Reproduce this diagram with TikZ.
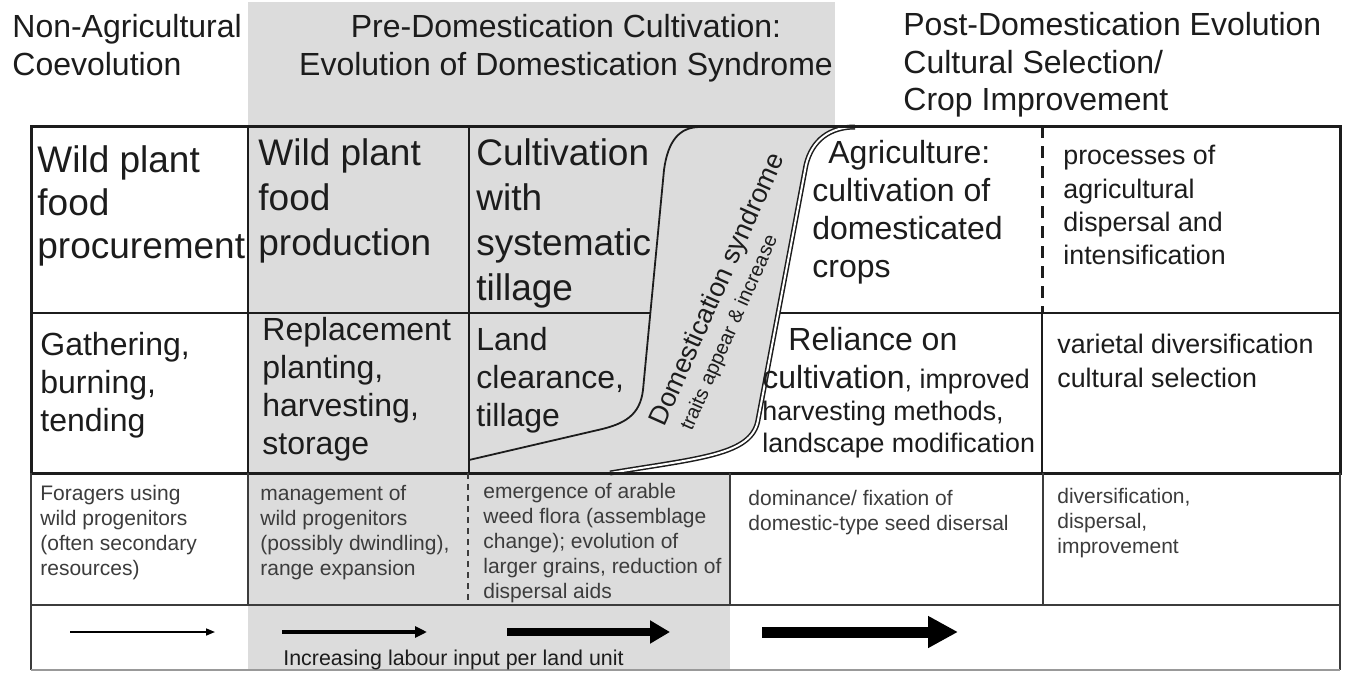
\documentclass[tikz,border=0pt]{standalone}
\usepackage{fontspec}
\setmainfont{Liberation Sans}
\usetikzlibrary{arrows.meta}
\definecolor{bandgray}{RGB}{220,220,220}
\definecolor{ink}{RGB}{28,28,28}
\definecolor{softink}{RGB}{60,60,60}
\begin{document}
\begin{tikzpicture}[x=0.5pt,y=-0.5pt,
  txt/.style={anchor=north west, inner sep=0pt, align=left, text=ink},
  hdr/.style={txt, font=\fontsize{16}{19}\selectfont},
  big/.style={txt, font=\fontsize{18.5}{22.5}\selectfont},
  mid/.style={txt, font=\fontsize{16}{19}\selectfont},
  sml/.style={txt, font=\fontsize{13.4}{16.7}\selectfont},
  tiny/.style={txt, text=softink, font=\fontsize{10.5}{12.5}\selectfont},
  frame/.style={draw=ink, line width=1.5pt},
  rule/.style={draw=ink, line width=1pt},
  thin/.style={draw=softink, line width=0.8pt},
  curve/.style={draw=ink, line width=0.9pt},
  dcurve/.style={draw=ink, line width=0.75pt, double=white, double distance=1.0pt},
  labarrow/.style={draw=black, line cap=butt}
]
\useasboundingbox (0,0) rectangle (1346,675);
\fill[white] (0,0) rectangle (1346,675);
% grey bands
\fill[bandgray] (248,2) rectangle (835,126);
\fill[bandgray] (248,126) rectangle (469,473);
\fill[bandgray] (248,473) rectangle (730,670);
\fill[bandgray] (469,126) -- (855,127) .. controls (830,127) and (812,140) .. (806,165)
  -- (758,420) .. controls (752,455) and (700,458) .. (610,473) -- (469,473) -- cycle;

% table upper part
\draw[rule] (31,313) -- (650,313);
\draw[rule] (778,313) -- (1340,313);
\draw[rule] (248,126) -- (248,473);
\draw[rule] (469,126) -- (469,473);
\draw[ink, line width=1.5pt, dash pattern=on 6pt off 4pt] (1042,126) -- (1042,313);
\draw[rule] (1042,313) -- (1042,473);
% S-curves
\draw[curve] (469,460) -- (598,430) .. controls (625,424) and (640,415) .. (643,390)
  -- (664,170) .. controls (668,140) and (680,127) .. (700,127);
\draw[dcurve] (610,473) .. controls (700,458) and (752,455) .. (758,420)
  -- (806,165) .. controls (812,140) and (830,127) .. (855,127);
\draw[frame] (31,126) rectangle (1340,473);

% lower part
\draw[thin] (31,473) -- (31,670);
\draw[thin] (1340,473) -- (1340,670);
\draw[thin] (31,605) -- (1340,605);
\draw[draw=black!40, line width=0.8pt] (31,670) -- (1340,670);
\draw[thin] (248,473) -- (248,605);
\draw[draw=softink, line width=0.7pt, dash pattern=on 3pt off 2.5pt] (468,473) -- (468,605);
\draw[thin] (730,473) -- (730,605);
\draw[thin] (1043,473) -- (1043,605);

% headers
\node[hdr] (h1) at (12,14) {Non-Agricultural\\Coevolution};
\node[hdr, anchor=north, align=center] (h2) at (566,14) {Pre-Domestication Cultivation:\\Evolution of Domestication Syndrome};
\node[hdr, font=\fontsize{16}{18.75}\selectfont] (h3) at (903,12) {Post-Domestication Evolution\\Cultural Selection/\\Crop Improvement};

% row 1
\node[big, font=\fontsize{18.5}{21.5}\selectfont] (r1c1) at (37,145) {Wild plant\\food\\procurement};
\node[big] (r1c2) at (258,138) {Wild plant\\food\\production};
\node[big] (r1c3) at (476,138) {Cultivation\\with\\systematic\\tillage};
\node[mid] (r1c4) at (812,140) {\hspace*{8pt}Agriculture:\\cultivation of\\domesticated\\crops};
\node[sml] (r1c5) at (1063,145) {processes of\\agricultural\\dispersal and\\intensification};

% row 2
\node[mid] (r2c1) at (40,332) {Gathering,\\burning,\\tending};
\node[mid] (r2c2) at (262,317) {Replacement\\planting,\\harvesting,\\storage};
\node[mid] (r2c3) at (476,327) {Land\\clearance,\\tillage};
\node[mid] (r2c4a) at (788,327) {Reliance on};
\node[sml, font=\fontsize{13.4}{16}\selectfont] (r2c4b) at (762,365) {{\fontsize{16}{16}\selectfont cultivation}, improved\\harvesting methods,\\landscape modification};
\node[sml, font=\fontsize{13.4}{17}\selectfont] (r2c5) at (1057,334) {varietal diversification\\cultural selection};

% syndrome label
\node[rotate=66, inner sep=0pt, text=ink, font=\fontsize{13.4}{16}\selectfont] (ds1) at (718,290) {Domestication syndrome};
\node[rotate=66, inner sep=0pt, text=ink, font=\fontsize{10}{12}\selectfont] (ds2) at (730,333) {traits appear \& increase};

% row 3
\node[tiny] (r3c1) at (40,485) {Foragers using\\wild progenitors\\(often secondary\\resources)};
\node[tiny] (r3c2) at (260,485) {management of\\wild progenitors\\(possibly dwindling),\\range expansion};
\node[tiny] (r3c3) at (483,483) {emergence of arable\\weed flora (assemblage\\change); evolution of\\larger grains, reduction of\\dispersal aids};
\node[tiny] (r3c4) at (748,490) {dominance/ fixation of\\domestic-type seed disersal};
\node[tiny] (r3c5) at (1057,488) {diversification,\\dispersal,\\improvement};

% arrows
\coordinate (a1s) at (70,632);  \coordinate (a1e) at (215,632);
\coordinate (a2s) at (282,632); \coordinate (a2e) at (427,632);
\coordinate (a3s) at (507,632); \coordinate (a3e) at (670,632);
\coordinate (a4s) at (762,632); \coordinate (a4e) at (958,632);
\draw[labarrow, line width=0.8pt, -{Triangle[length=4.5pt,width=3.5pt]}] (a1s) -- (a1e);
\draw[labarrow, line width=2pt, -{Triangle[length=6pt,width=5.5pt]}] (a2s) -- (a2e);
\draw[labarrow, line width=3.6pt, -{Triangle[length=10pt,width=11pt]}] (a3s) -- (a3e);
\draw[labarrow, line width=5.5pt, -{Triangle[length=15pt,width=15pt]}] (a4s) -- (a4e);
\node[tiny, text=ink, font=\fontsize{10.7}{12}\selectfont] (lab) at (283,650) {Increasing labour input per land unit};
\end{tikzpicture}
\end{document}
